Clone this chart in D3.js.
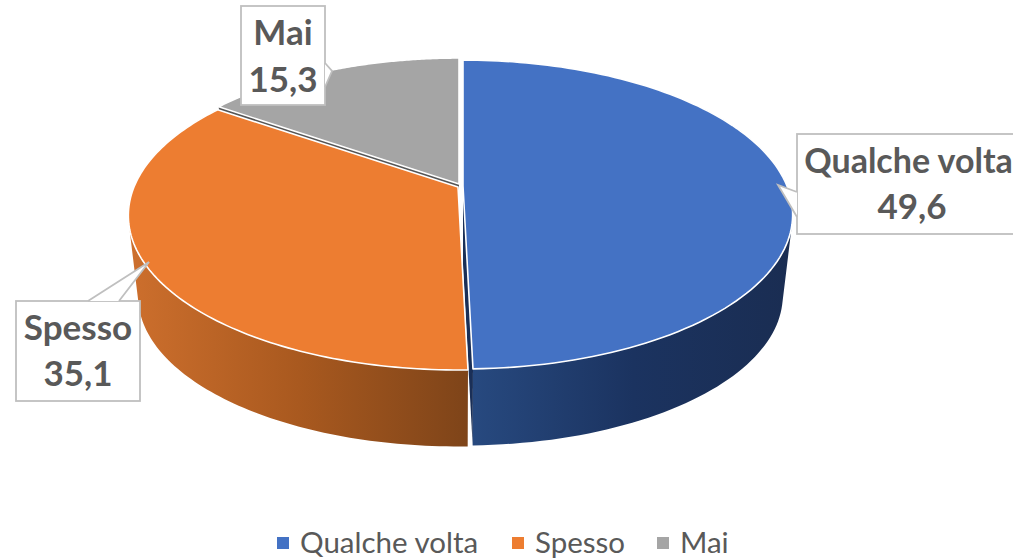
<!DOCTYPE html>
<html><head><meta charset="utf-8">
<script src="https://cdn.jsdelivr.net/npm/d3@7/dist/d3.min.js"></script>
<style>html,body{margin:0;padding:0;background:#fff;overflow:hidden}svg{display:block}</style>
</head><body><svg id="c" width="1013" height="560"></svg>
<script>
const categories = ["Qualche volta", "Spesso", "Mai"];
const values = [49.6, 35.1, 15.3];
const valueLabels = ["49,6", "35,1", "15,3"];
const topColors = ["#4472C4", "#ED7D31", "#A5A5A5"];
const wallStops = [["#27497f", "#1b3360", "#1a2d52"], ["#cd6f2d", "#a9591f", "#7e4419"], ["#777", "#666", "#555"]];
const faceColors = ["#1a2f57", "#7e4419", "#555555"];
const offsets = [[2, 0], [-3, 1], [-2, -2]];

const svg = d3.select("#c");
const defs = svg.append("defs");
const K = 0.1845, A = 324, B = 149.2;
const top_ = {x: 461, y: 186, s: 1};
const bot_ = {x: 461, y: 268, s: 0.97};
const proj = (ang, r, p, off) => {
  const X = Math.sin(ang) * r, Y = -Math.cos(ang) * r, d = 1 - K * Y;
  return [p.x + off[0] + p.s * A * X / d, p.y + off[1] + p.s * B * Y / d];
};
const slices = d3.pie().sort(null).value(d => d)(values);
const arcPts = (s, p, off) => d3.range(0, 121).map(i => proj(s.startAngle + (s.endAngle - s.startAngle) * i / 120, 1, p, off));
const line = d3.line();

// walls: one path of same-winding quads, so the silhouette joins both rims with no seams
slices.forEach((s, i) => {
  if (i === 2) return;
  const off = offsets[i];
  const t = arcPts(s, top_, off), b = arcPts(s, bot_, off);
  const ext = d3.extent(t.concat(b), d => d[0]);
  const visible = i === 0 ? [proj(s.endAngle, 1, top_, off)[0], ext[1]] : [ext[0], proj(s.startAngle, 1, top_, off)[0]];
  const g = defs.append("linearGradient").attr("id", "w" + i).attr("gradientUnits", "userSpaceOnUse")
    .attr("x1", visible[0]).attr("x2", visible[1]).attr("y1", 0).attr("y2", 0);
  wallStops[i].forEach((c, j) => g.append("stop").attr("offset", j / 2).attr("stop-color", c));
  const d = d3.range(0, t.length - 1).map(k => {
    const q = [t[k], t[k + 1], b[k + 1], b[k]];
    if (d3.polygonArea(q) < 0) q.reverse();
    return line(q) + "Z";
  }).join("");
  svg.append("path").attr("d", d).attr("fill", `url(#w${i})`);
});

// cut faces that look towards the viewer
[[0, "endAngle"], [2, "startAngle"]].forEach(([i, key]) => {
  const off = offsets[i], a = slices[i][key];
  const pts = [proj(0, 0, top_, off), proj(a, 1, top_, off), proj(a, 1, bot_, off), proj(0, 0, bot_, off)];
  svg.append("path").attr("d", line(pts) + "Z").attr("fill", faceColors[i]);
});

// top faces
[2, 0, 1].forEach(i => {
  const s = slices[i], off = offsets[i];
  const pts = [proj(0, 0, top_, off)].concat(arcPts(s, top_, off));
  svg.append("path").attr("d", line(pts) + "Z").attr("fill", topColors[i])
    .attr("stroke", "#fff").attr("stroke-width", 1.6).attr("stroke-linejoin", "round");
});

// data label callouts
const callouts = [
  {box: [797, 134, 1020, 234], ptr: "M797 192L778 185L797 217", cx: [908.5, 912], y: [173, 219], size: [34, 35]},
  {box: [16, 301, 140, 401], ptr: "M88 301L149 262L119 301", cx: [78, 78], y: [340, 386], size: [35, 35]},
  {box: [241, 6, 325, 105], ptr: "M325 63L332 71L325 87", cx: [283, 283], y: [45, 92], size: [35, 35]}
];
callouts.forEach((c, i) => {
  const [x0, y0, x1, y1] = c.box;
  svg.append("rect").attr("x", x0).attr("y", y0).attr("width", x1 - x0).attr("height", y1 - y0)
    .attr("fill", "#fff").attr("stroke", "#bfbfbf").attr("stroke-width", 1.8);
  svg.append("path").attr("d", c.ptr + "Z").attr("fill", "#fff").attr("stroke", "none");
  svg.append("path").attr("d", c.ptr).attr("fill", "none").attr("stroke", "#bfbfbf").attr("stroke-width", 1.8);
  [categories[i], valueLabels[i]].forEach((txt, j) => {
    svg.append("text").attr("x", c.cx[j]).attr("y", c.y[j]).attr("text-anchor", "middle")
      .attr("font-family", "Lato, sans-serif").attr("font-weight", 700).attr("font-size", c.size[j])
      .attr("fill", "#595959").text(txt);
  });
});

// legend
const legendX = [277, 512, 657];
categories.forEach((c, i) => {
  svg.append("rect").attr("x", legendX[i]).attr("y", 537).attr("width", 12).attr("height", 12).attr("fill", topColors[i]);
  svg.append("text").attr("x", legendX[i] + 23).attr("y", 553)
    .attr("font-family", "Lato, sans-serif").attr("font-size", 29.5).attr("fill", "#595959").text(c);
});
</script></body></html>
